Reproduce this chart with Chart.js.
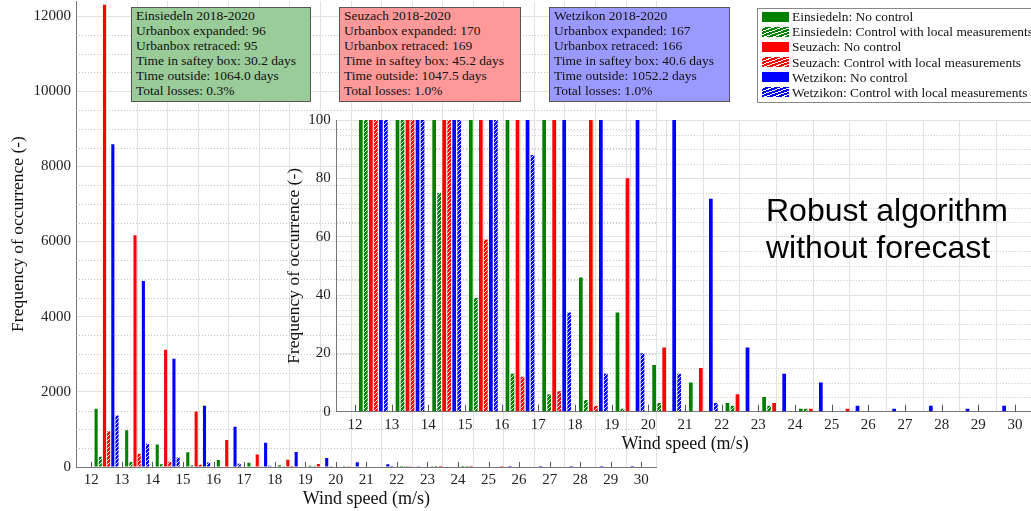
<!DOCTYPE html>
<html><head><meta charset="utf-8">
<script src="https://cdn.jsdelivr.net/npm/chart.js@4.4.0/dist/chart.umd.min.js"></script>
<style>
html,body{margin:0;padding:0;width:1031px;height:511px;overflow:hidden;background:#fff;}
#main{position:absolute;left:0;top:0;}
#inset{position:absolute;left:280px;top:105px;}
.box{position:absolute;top:7px;height:95px;border:1px solid #555;font-family:"Liberation Serif",serif;font-size:13.5px;line-height:15px;padding:0 0 0 4px;box-sizing:border-box;color:#111;white-space:nowrap;overflow:hidden;}
#legend{position:absolute;left:757px;top:8px;width:290px;height:95px;border:1px solid #888;background:#fff;box-sizing:border-box;font-family:"Liberation Serif",serif;font-size:13.4px;color:#111;}
.row{position:relative;height:15.2px;line-height:15.2px;white-space:nowrap;padding-left:34px;}
.sw{position:absolute;left:4px;top:2.5px;width:27px;height:10px;}
#robust{position:absolute;left:766px;top:192px;font-family:"Liberation Sans",Arial,sans-serif;font-size:32px;line-height:37px;color:#000;white-space:nowrap;}
</style></head>
<body>
<canvas id="main" width="660" height="511"></canvas>
<canvas id="inset" width="760" height="350"></canvas>
<div class="box" style="left:131px;width:180px;background:#99cc99;">Einsiedeln 2018-2020<br>Urbanbox expanded: 96<br>Urbanbox retraced: 95<br>Time in saftey box: 30.2 days<br>Time outside: 1064.0 days<br>Total losses: 0.3%</div>
<div class="box" style="left:339px;width:182px;background:#ff9999;">Seuzach 2018-2020<br>Urbanbox expanded: 170<br>Urbanbox retraced: 169<br>Time in saftey box: 45.2 days<br>Time outside: 1047.5 days<br>Total losses: 1.0%</div>
<div class="box" style="left:549px;width:181px;background:#9999ff;">Wetzikon 2018-2020<br>Urbanbox expanded: 167<br>Urbanbox retraced: 166<br>Time in saftey box: 40.6 days<br>Time outside: 1052.2 days<br>Total losses: 1.0%</div>
<div id="legend"></div>
<div id="robust">Robust algorithm<br>without forecast</div>
<script>
// Wind speed bins (lower edge, m/s)
const windBins = [12,13,14,15,16,17,18,19,20,21,22,23,24,25,26,27,28,29];
const xTickLabels = [12,13,14,15,16,17,18,19,20,21,22,23,24,25,26,27,28,29,30];
const mainYTicks = [0,2000,4000,6000,8000,10000,12000];
const insetYTicks = [0,20,40,60,80,100];

const einsiedelnNoControl = [1550,980,600,390,185,110,46,34,16,10,3,5,1,0,0,0,0,0];
const einsiedelnControl   = [270,135,75,39,13,6,4,1,3,0,2,2,1,0,0,0,0,0];
const seuzachNoControl    = [12300,6170,3120,1480,720,330,190,80,22,15,6,3,1,1,0,0,0,0];
const seuzachControl      = [950,350,140,59,12,7,2,0,0,0,0,0,0,0,0,0,0,0];
const wetzikonNoControl   = [8590,4950,2880,1630,1070,645,400,240,125,73,22,13,10,2,1,2,1,2];
const wetzikonControl     = [1370,620,250,120,88,34,13,20,13,3,0,0,0,0,0,0,0,0];

const seriesNames = ['Einsiedeln: No control','Einsiedeln: Control with local measurements','Seuzach: No control','Seuzach: Control with local measurements','Wetzikon: No control','Wetzikon: Control with local measurements'];
const seriesValues = [einsiedelnNoControl,einsiedelnControl,seuzachNoControl,seuzachControl,wetzikonNoControl,wetzikonControl];
const seriesColors = ['#008000','#008000','#ff0000','#ff0000','#0000ff','#0000ff'];
const seriesHatched = [false,true,false,true,false,true];

function hatch(color){
  const c=document.createElement('canvas'); c.width=4; c.height=4;
  const g=c.getContext('2d');
  g.fillStyle=color; g.fillRect(0,0,4,4);
  g.strokeStyle='rgba(255,255,255,0.95)'; g.lineWidth=0.9;
  g.beginPath(); g.moveTo(-1,5); g.lineTo(5,-1); g.stroke();
  g.beginPath(); g.moveTo(-1,1); g.lineTo(1,-1); g.stroke();
  g.beginPath(); g.moveTo(3,5); g.lineTo(5,3); g.stroke();
  return g.createPattern(c,'repeat');
}

function datasets(){
  return seriesValues.map((vals,i)=>({
    label: seriesNames[i],
    data: windBins.map((b,j)=>({x:b+0.5,y:vals[j]})),
    backgroundColor: seriesHatched[i]?hatch(seriesColors[i]):seriesColors[i],
    borderWidth:0,
    categoryPercentage:0.82,
    barPercentage:0.74,
    clip:0
  }));
}

const gridExtras = {
  id:'gridExtras',
  beforeDatasetsDraw(chart,args,opts){
    const {ctx,chartArea:{left,right,top,bottom},scales:{x,y}}=chart;
    ctx.save();
    ctx.strokeStyle='#c4c4c4'; ctx.lineWidth=1; ctx.setLineDash([1,2]);
    for(let v=0; v<=y.max; v+=opts.minor){
      if(opts.majors.includes(v)) continue;
      const py=Math.round(y.getPixelForValue(v))+0.5;
      ctx.beginPath(); ctx.moveTo(left,py); ctx.lineTo(right,py); ctx.stroke();
    }
    ctx.restore();
  },
  afterDatasetsDraw(chart,args,opts){
    const {ctx,chartArea:{bottom},scales:{x}}=chart;
    ctx.save(); ctx.strokeStyle='#555'; ctx.lineWidth=1;
    xTickLabels.forEach(t=>{
      const px=Math.round(x.getPixelForValue(t))+0.5;
      ctx.beginPath(); ctx.moveTo(px,bottom); ctx.lineTo(px,bottom-opts.tickLen); ctx.stroke();
    });
    ctx.restore();
  }
};

const serif='"Liberation Serif", serif';
function zeroPad(s){ s.paddingTop=0; s.paddingBottom=0; s.paddingLeft=0; s.paddingRight=0; }
function makeChart(id, yMax, yTicks, minor, yWidth, xHeight, padding, titlePadY, titlePadX){
  return new Chart(document.getElementById(id),{
    type:'bar',
    data:{datasets:datasets()},
    plugins:[gridExtras],
    options:{
      responsive:false, animation:false, devicePixelRatio:1,
      layout:{padding},
      plugins:{legend:{display:false},tooltip:{enabled:false},
        gridExtras:{minor, majors:yTicks, tickLen: id==='main'?5:7}},
      scales:{
        x:{type:'linear',min:11.5,max:30.5,offset:false,
          afterBuildTicks:s=>{ s.ticks = xTickLabels.map(v=>({value:v})); },
          afterFit:s=>{ s.height=xHeight; zeroPad(s); },
          ticks:{autoSkip:false,maxRotation:0,minRotation:0,padding:4,color:'#222',font:{family:serif,size:15},
            callback:v=>String(v)},
          grid:{color:'#e2e2e2',drawTicks:false},
          border:{color:'#777'},
          title:{display:true,text:'Wind speed (m/s)',color:'#111',font:{family:serif,size:18},padding:{top:0,bottom:titlePadX}}
        },
        y:{min:0,max:yMax,
          afterBuildTicks:s=>{ s.ticks = yTicks.map(v=>({value:v})); },
          afterFit:s=>{ s.width=yWidth; zeroPad(s); },
          ticks:{autoSkip:false,padding:id==='main'?5:6,color:'#222',font:{family:serif,size:15},
            callback:v=>String(v)},
          grid:{color:'#e2e2e2',drawTicks:false},
          border:{color:'#777'},
          title:{display:true,text:'Frequency of occurrence (-)',color:'#111',font:{family:serif,size:17.5},padding:{top:titlePadY,bottom:0}}
        }
      }
    }
  });
}

makeChart('main',12400,mainYTicks,500,76,44,{left:0,right:3.4,top:1,bottom:0},8.3,1);
makeChart('inset',100,insetYTicks,5,56.7,43.3,{left:0,right:6.7,top:15,bottom:0},4,0);

// legend
const lg=document.getElementById('legend');
seriesNames.forEach((n,i)=>{
  const r=document.createElement('div'); r.className='row';
  const s=document.createElement('span'); s.className='sw';
  s.style.background = seriesHatched[i]
    ? `repeating-linear-gradient(-20deg, ${seriesColors[i]} 0px, ${seriesColors[i]} 2px, #fff 2px, #fff 3px)`
    : seriesColors[i];
  r.appendChild(s); r.appendChild(document.createTextNode(n));
  lg.appendChild(r);
});
</script>
</body></html>
